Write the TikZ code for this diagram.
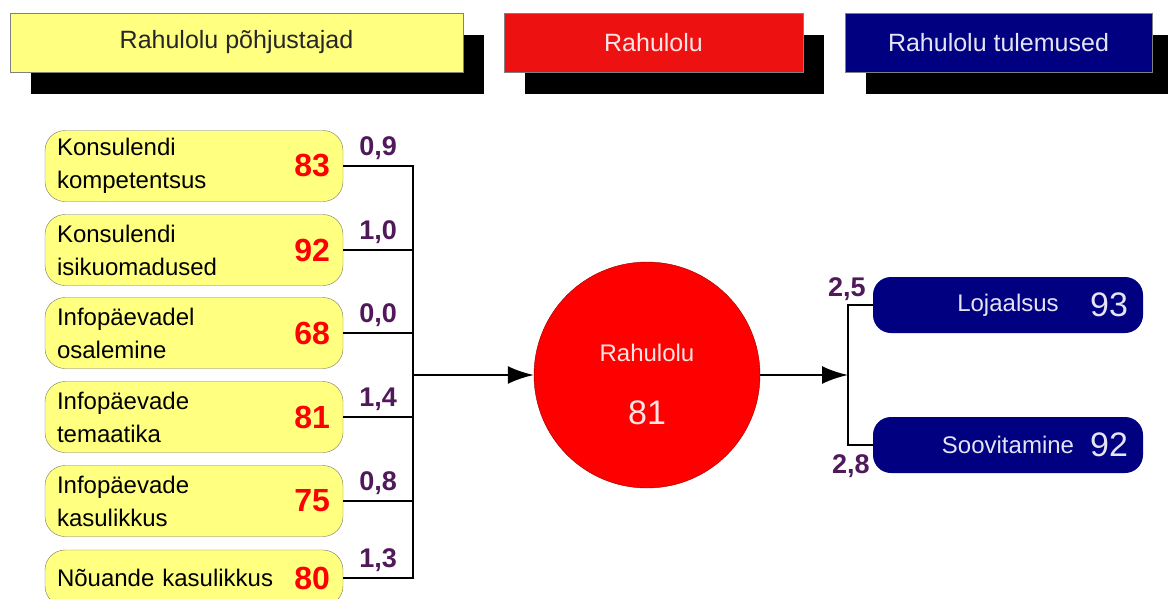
\documentclass[tikz,border=0pt]{standalone}
\usepackage{fontspec}
\setmainfont{Liberation Sans}
\usetikzlibrary{arrows.meta, shadows}

\definecolor{paleyellow}{RGB}{255,255,128}
\definecolor{boxedge}{RGB}{120,120,100}
\definecolor{headred}{RGB}{238,17,17}
\definecolor{circred}{RGB}{255,0,0}
\definecolor{darkred}{RGB}{150,0,0}
\definecolor{navy}{RGB}{0,0,128}
\definecolor{weightcol}{RGB}{80,25,90}
\definecolor{palelilac}{RGB}{228,228,245}
\definecolor{palepink}{RGB}{255,228,228}

\begin{document}
\begin{tikzpicture}[x=1pt, y=-1pt,
    headbox/.style={draw=gray, minimum height=59pt, inner sep=0pt,
        font=\fontsize{25}{30}\selectfont,
        drop shadow={shadow xshift=21pt, shadow yshift=-22pt, fill=black, opacity=1}},
    causebox/.style={draw=boxedge, fill=paleyellow, rounded corners=20pt,
        minimum width=298pt, text width=274pt, inner xsep=12pt, align=left,
        font=\fontsize{24}{33}\selectfont},
    causenum/.style={text=circred, inner sep=0pt, font=\fontsize{32}{36}\selectfont\bfseries},
    weight/.style={text=weightcol, inner sep=0pt, font=\fontsize{27}{30}\selectfont\bfseries},
    wire/.style={line width=2.4pt},
    tip/.style={-{Latex[length=26pt, width=18pt]}},
    outbox/.style={fill=navy, rounded corners=18pt, minimum width=270pt, minimum height=56pt},
    outtext/.style={text=palelilac, inner sep=0pt, font=\fontsize{24}{28}\selectfont},
    outnum/.style={text=palelilac, inner sep=0pt, font=\fontsize{34}{38}\selectfont}]
    \useasboundingbox (0,0) rectangle (1168,598);

    % headers
    \node[headbox, fill=paleyellow, text=black!85, minimum width=453pt] (hcause) at (236.5,42.5) {Rahulolu põhjustajad};
    \node[headbox, fill=headred, text=palepink, minimum width=299pt] (hsat) at (653.5,42.5) {Rahulolu};
    \node[headbox, fill=navy, text=palelilac, minimum width=307pt] (hres) at (998.5,42.5) {Rahulolu tulemused};

    \coordinate (jl) at (413,375);
    \coordinate (jr) at (848,375);

    % causes
    \foreach \i/\y/\h/\txt/\val/\wt in {
        1/166/71/{Konsulendi\\kompetentsus}/83/{0,9},
        2/250/71/{Konsulendi\\isikuomadused}/92/{1,0},
        3/333/71/{Infopäevadel\\osalemine}/68/{0,0},
        4/417/71/{Infopäevade\\temaatika}/81/{1,4},
        5/501/71/{Infopäevade\\kasulikkus}/75/{0,8},
        6/578/56/{Nõuande kasulikkus}/80/{1,3}}
    {
        \node[causebox, minimum height=\h pt] (b\i) at (194,\y) {\txt};
        \node[causenum, anchor=east] (n\i) at ([xshift=-13pt]b\i.east) {\val};
        \draw[wire] (b\i.east) -| (jl);
        \node[weight, anchor=base] (w\i) at ([xshift=35pt, yshift=11pt]b\i.east) {\wt};
    }

    % satisfaction
    \node[circle, draw=darkred, fill=circred, minimum size=226pt, inner sep=0pt] (circ) at (647,375) {};
    \node[outtext, text=palepink] (ctitle) at (647,353) {Rahulolu};
    \node[outnum, text=palepink] (cval) at (647,413) {81};
    \draw[wire, tip] (jl) -- (circ.west);
    \draw[wire, tip] (circ.east) -- (jr);

    % results
    \foreach \i/\y/\txt/\val in {1/305/Lojaalsus/93, 2/445/Soovitamine/92}
    {
        \node[outbox] (o\i) at (1008,\y) {};
        \node[outtext] (l\i) at (o\i.center) {\txt};
        \node[outnum, anchor=east] (v\i) at ([xshift=-15pt]o\i.east) {\val};
        \draw[wire] (jr) |- (o\i.west);
    }
    \node[weight, anchor=base] (w7) at ([xshift=-26pt, yshift=9pt]o1.west) {2,5};
    \node[weight, anchor=base] (w8) at ([xshift=-22pt, yshift=-28pt]o2.west) {2,8};
\end{tikzpicture}
\end{document}
